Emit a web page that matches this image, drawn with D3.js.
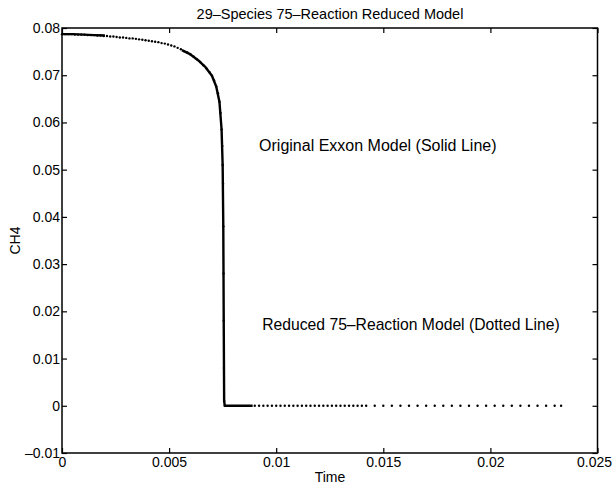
<!DOCTYPE html>
<html><head><meta charset="utf-8">
<script src="https://cdn.jsdelivr.net/npm/d3@7"></script>
<style>body{margin:0;background:#fff}text{font-family:"Liberation Sans",Arial,sans-serif;fill:#000}</style>
</head><body>
<svg id="c" width="613" height="485"></svg>
<script>
const titleText = "29–Species 75–Reaction Reduced Model";
const xLabel = "Time";
const yLabel = "CH4";
const xTicks = [0, 0.005, 0.01, 0.015, 0.02, 0.025];
const xTickLabels = ["0", "0.005", "0.01", "0.015", "0.02", "0.025"];
const yTicks = [-0.01, 0, 0.01, 0.02, 0.03, 0.04, 0.05, 0.06, 0.07, 0.08];
const yTickLabels = ["–0.01", "0", "0.01", "0.02", "0.03", "0.04", "0.05", "0.06", "0.07", "0.08"];
const annotations = ["Original Exxon Model (Solid Line)", "Reduced 75–Reaction Model (Dotted Line)"];
const annotationPos = [[0.0092, 0.0540], [0.00935, 0.0160]];

// Original Exxon model (solid line) – null marks a gap where only dots are visible
const origTime = [0, 0.0005, 0.001, 0.0015, 0.0020, null, 0.0056, 0.0060, 0.0064, 0.0067, 0.0070, 0.0072, 0.00735, 0.00745, 0.0075, 0.00753, 0.00755, 0.00757, 0.0076, 0.0089];
const origCH4  = [0.0787, 0.0787, 0.0786, 0.0785, 0.0784, null, 0.0753, 0.0744, 0.0730, 0.0717, 0.0699, 0.0676, 0.0644, 0.0585, 0.0510, 0.0380, 0.0180, 0.0010, 0.0, 0.0];

// Reduced 75-reaction model (dotted)
const redTime = [0.00000,0.00015,0.00030,0.00045,0.00060,0.00075,0.00090,0.00105,0.00120,0.00135,0.00150,0.00165,0.00180,0.00195,0.00210,0.00225,0.00240,0.00255,0.00270,0.00285,0.00300,0.00315,0.00330,0.00345,0.00360,0.00375,0.00390,0.00405,0.00420,0.00435,0.00450,0.00465,0.00480,0.00495,0.00510,0.00525,0.00540,0.00555,0.00570,0.00585,0.00600,0.00615,0.00630,0.00645,0.00660,0.00675,0.00690,0.00700,0.00710,0.00720,0.00728,0.00735,0.00740,0.00745,0.00748,0.00750,0.00752,0.00753,0.00754,0.00755,0.00756,0.00757,0.00760,
 0.0090,0.0092,0.0094,0.0096,0.0098,0.0100,0.0102,0.0104,0.0106,0.0108,0.0110,0.0112,0.0114,0.0116,0.0118,0.0120,0.0122,0.0124,0.0126,0.0128,0.0130,0.0132,0.0134,0.0136,0.0138,0.0140,0.0142,0.0146,0.0150,0.0154,0.0158,0.0162,0.0166,0.0170,0.0174,0.0178,0.0182,0.0186,0.0190,0.0194,0.0198,0.0202,0.0206,0.0210,0.0214,0.0218,0.0222,0.0226,0.0230,0.0233];
const redCH4 = [0.0787,0.0787,0.0787,0.0787,0.0786,0.0786,0.0786,0.0786,0.0785,0.0785,0.0785,0.0784,0.0784,0.0783,0.0783,0.0782,0.0782,0.0781,0.0780,0.0780,0.0779,0.0778,0.0778,0.0777,0.0776,0.0775,0.0774,0.0773,0.0772,0.0771,0.0770,0.0768,0.0767,0.0765,0.0763,0.0761,0.0758,0.0755,0.0751,0.0748,0.0744,0.0739,0.0734,0.0728,0.0721,0.0714,0.0706,0.0699,0.0689,0.0676,0.0662,0.0644,0.0620,0.0585,0.0550,0.0510,0.0470,0.0380,0.0280,0.0180,0.0080,0.0010,0.0000,
 0,0,0,0,0,0,0,0,0,0,0,0,0,0,0,0,0,0,0,0,0,0,0,0,0,0,0,0,0,0,0,0,0,0,0,0,0,0,0,0,0,0,0,0,0,0,0,0,0,0];

const svg = d3.select("#c");
const L = 62, R = 597.5, T = 28, B = 453;
const x = d3.scaleLinear().domain([0, 0.025]).range([L, R]);
const y = d3.scaleLinear().domain([-0.01, 0.08]).range([B, T]);

const tl = 5;
const bx = svg.append("g").attr("transform", `translate(0,${B})`)
  .call(d3.axisBottom(x).tickValues(xTicks).tickFormat((d,i)=>xTickLabels[i]).tickSizeInner(-tl).tickSizeOuter(0).tickPadding(4));
const tx = svg.append("g").attr("transform", `translate(0,${T})`)
  .call(d3.axisTop(x).tickValues(xTicks).tickFormat("").tickSizeInner(-tl).tickSizeOuter(0));
const ly = svg.append("g").attr("transform", `translate(${L},0)`)
  .call(d3.axisLeft(y).tickValues(yTicks).tickFormat((d,i)=>yTickLabels[i]).tickSizeInner(-tl).tickSizeOuter(0).tickPadding(2));
const ry = svg.append("g").attr("transform", `translate(${R},0)`)
  .call(d3.axisRight(y).tickValues(yTicks).tickFormat("").tickSizeInner(-tl).tickSizeOuter(0));
[bx,tx,ly,ry].forEach(g=>{
  g.selectAll("path.domain").remove();
  g.selectAll("line").attr("stroke","#000").attr("stroke-width",1.2);
  g.selectAll("text").style("font-size","14px").style("font-family","'Liberation Sans',Arial,sans-serif").attr("fill","#000");
});
// keep the last x label inside the page
bx.selectAll(".tick").filter(d=>d===0.025).select("text").attr("text-anchor","end").attr("x",14);
svg.append("rect").attr("x",L).attr("y",T).attr("width",R-L).attr("height",B-T)
  .attr("fill","none").attr("stroke","#000").attr("stroke-width",1.5);

const solid = origTime.map((t,i)=>({t, v: origCH4[i]}));
svg.append("path").datum(solid)
  .attr("d", d3.line().defined(d=>d.t!==null && d.v!==null).x(d=>x(d.t)).y(d=>y(d.v)))
  .attr("fill","none").attr("stroke","#000").attr("stroke-width",2.4).attr("stroke-linejoin","round");

svg.append("g").selectAll("circle").data(redTime.map((t,i)=>({t, v: redCH4[i]})))
  .join("circle").attr("cx",d=>x(d.t)).attr("cy",d=>y(d.v)).attr("r",1.2).attr("fill","#000");

svg.append("text").attr("x",330).attr("y",19).attr("text-anchor","middle").style("font-size","14.5px").text(titleText);
svg.append("text").attr("x",330).attr("y",482).attr("text-anchor","middle").style("font-size","14px").text(xLabel);
svg.append("text").attr("transform",`translate(20,${(T+B)/2}) rotate(-90)`).attr("text-anchor","middle").style("font-size","14px").text(yLabel);
annotations.forEach((s,i)=>{
  svg.append("text").attr("x",x(annotationPos[i][0])).attr("y",y(annotationPos[i][1])).style("font-size", i===0 ? "16px" : "15.7px").text(s);
});
</script>
</body></html>
